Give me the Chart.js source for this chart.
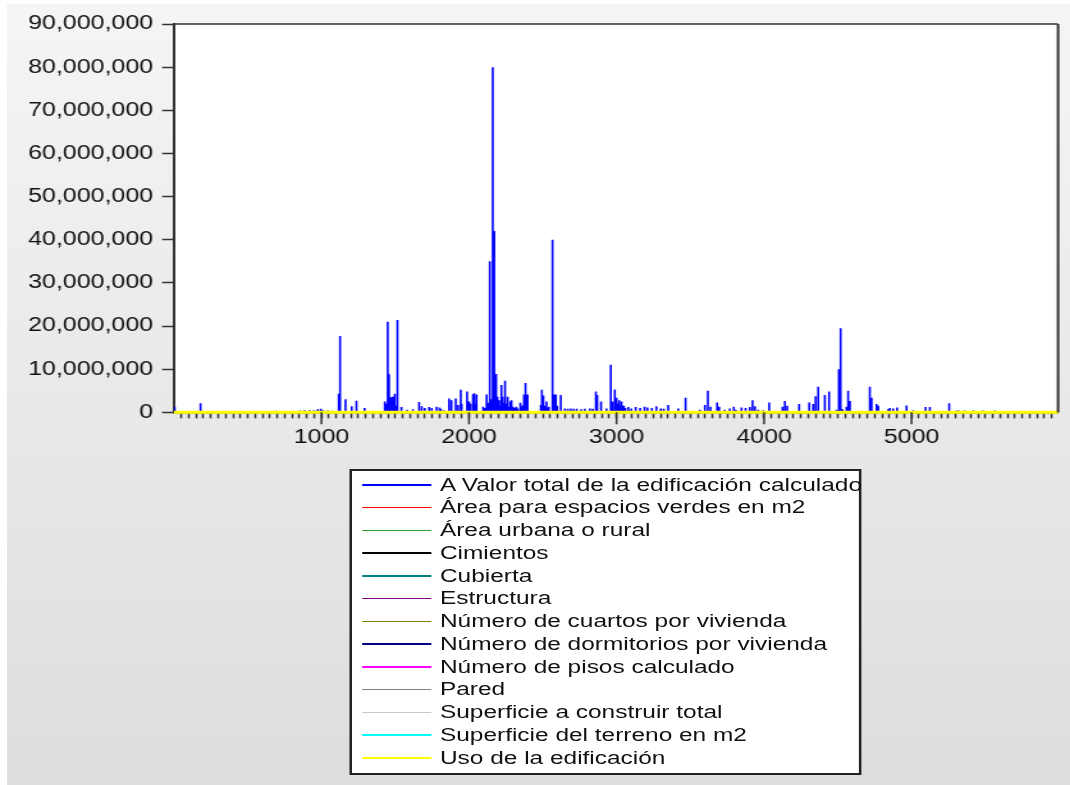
<!DOCTYPE html>
<html>
<head>
<meta charset="utf-8">
<script src="https://cdn.jsdelivr.net/npm/chart.js@4.4.0/dist/chart.umd.min.js"></script>
<style>
    html, body { margin: 0; padding: 0; background: #fff; overflow: hidden; }
    #bg { position: absolute; left: 7px; top: 4px; width: 1063px; height: 781px; background: linear-gradient(#f5f5f5, #dddddd); }
    /* the reference is horizontally stretched, so draw narrow and scale */
    #stage { position: absolute; left: 0; top: 0; width: 836px; height: 785px; transform: scaleX(1.28); transform-origin: 0 0; }
    #chart { position: absolute; left: 0; top: 0; }
    #legend { position: absolute; left: 273.4px; top: 469px; width: 400px; height: 306px; box-sizing: border-box;
              border: 2px solid #222; background: #fff; padding-top: 2.6px; }
    .row { position: relative; height: 22.75px; line-height: 22.75px; font: 19.1px 'Liberation Sans', Arial, sans-serif; color: #111; white-space: nowrap; }
    .row .line { position: absolute; left: 8px; top: 10.6px; width: 54px; height: 1.5px; }
    .row .txt { position: absolute; left: 68.3px; top: 0; }
</style>
</head>
<body>
<div id="bg"></div>
<div id="stage">
    <canvas id="chart" width="836" height="460"></canvas>
    <div id="legend"></div>
</div>
<script>
const seriesNames = [
    'A Valor total de la edificación calculado',
    'Área para espacios verdes en m2',
    'Área urbana o rural',
    'Cimientos',
    'Cubierta',
    'Estructura',
    'Número de cuartos por vivienda',
    'Número de dormitorios por vivienda',
    'Número de pisos calculado',
    'Pared',
    'Superficie a construir total',
    'Superficie del terreno en m2',
    'Uso de la edificación'
];
const seriesColors = ['#0000ff', '#ff0000', '#2ea02e', '#000000', '#008080', '#800080', '#808000',
                      '#000080', '#ff00ff', '#808080', '#c8c8c8', '#00ffff', '#ffff00'];

const obsRange = [0, 5993];
const xMajorTicks = [1000, 2000, 3000, 4000, 5000];
const xMinorStep = 50;
const yTickStep = 10000000;
const yMax = 90000000;

// Valor total: observation number and value of each visible spike
const valorObs = [5, 180, 665, 690, 720, 745, 855, 885, 920, 950, 975, 995, 1010, 1045, 1075,
    1117, 1126, 1163, 1205, 1237, 1292, 1429, 1440, 1449, 1458, 1465, 1470, 1483, 1490, 1497, 1505, 1515,
    1542, 1580, 1620, 1662, 1680, 1700, 1730, 1748, 1780, 1800, 1809, 1830,
    1865, 1881, 1910, 1926, 1944, 1950, 1987, 1995, 2001, 2010, 2023, 2030, 2035, 2045, 2051,
    2096, 2110, 2119, 2130, 2141, 2150, 2161, 2171, 2180, 2187, 2193, 2204, 2210, 2216, 2222, 2227,
    2236, 2240, 2247, 2252, 2258, 2265, 2270, 2277, 2282, 2288, 2295, 2300, 2310, 2320, 2330, 2344,
    2350, 2356, 2363, 2370, 2374, 2380, 2385, 2392, 2397,
    2487, 2494, 2500, 2507, 2515, 2525, 2532, 2541, 2566, 2575, 2580, 2589, 2598, 2622,
    2650, 2670, 2690, 2710, 2730, 2760, 2785, 2820, 2840, 2860, 2869, 2895, 2932,
    2961, 2973, 2986, 2990, 3000, 3010, 3018, 3025, 3034, 3042, 3050, 3060,
    3080, 3100, 3130, 3160, 3190, 3210, 3240, 3270, 3300, 3320, 3350, 3418, 3468,
    3565, 3599, 3619, 3637, 3682, 3696, 3734, 3768, 3795, 3809, 3847, 3875, 3904, 3922, 3938, 3960, 3994,
    4035, 4125, 4141, 4157, 4238, 4306, 4333, 4349, 4367, 4412, 4441, 4491, 4507, 4519, 4532,
    4559, 4570, 4582, 4717, 4729, 4763, 4774, 4841, 4853, 4875, 4902, 4966, 5011, 5095, 5124,
    5255, 5305, 5320, 5360, 5418, 5486, 5565];
const valorValues = [1.2e6, 2.1e6, 0.3e6, 0.35e6, 0.3e6, 0.3e6, 0.4e6, 0.5e6, 0.45e6, 0.5e6, 0.7e6, 0.8e6, 0.5e6, 0.4e6, 0.35e6,
    4.3e6, 17.7e6, 3.0e6, 1.4e6, 2.7e6, 1.0e6, 2.5e6, 2.0e6, 21.0e6, 8.8e6, 3.0e6, 3.5e6, 3.6e6, 2.5e6, 4.3e6, 1.5e6, 21.4e6,
    1.2e6, 0.6e6, 0.7e6, 2.4e6, 1.4e6, 1.0e6, 1.2e6, 1.0e6, 1.3e6, 1.1e6, 0.8e6, 0.5e6,
    3.2e6, 2.8e6, 3.2e6, 1.7e6, 5.2e6, 2.0e6, 4.8e6, 1.5e6, 2.5e6, 2.0e6, 4.2e6, 2.0e6, 4.4e6, 2.0e6, 4.1e6,
    1.3e6, 1.0e6, 4.1e6, 2.2e6, 35.0e6, 3.0e6, 80.0e6, 42.0e6, 8.9e6, 2.0e6, 3.6e6, 2.8e6, 1.5e6, 6.3e6, 1.8e6, 3.6e6,
    2.2e6, 1.5e6, 7.3e6, 2.0e6, 3.6e6, 1.5e6, 1.2e6, 2.5e6, 1.5e6, 2.8e6, 1.0e6, 1.3e6, 1.0e6, 1.3e6, 0.9e6, 2.2e6,
    1.0e6, 1.2e6, 1.6e6, 1.5e6, 4.1e6, 3.0e6, 6.8e6, 2.5e6, 4.1e6,
    1.7e6, 5.2e6, 2.0e6, 3.9e6, 1.5e6, 2.5e6, 1.0e6, 1.3e6, 40.0e6, 4.1e6, 2.0e6, 4.1e6, 1.5e6, 4.0e6,
    0.9e6, 0.8e6, 0.9e6, 0.8e6, 0.8e6, 0.7e6, 0.8e6, 0.9e6, 0.8e6, 4.8e6, 4.0e6, 2.5e6, 0.9e6,
    11.0e6, 2.5e6, 5.3e6, 2.0e6, 3.4e6, 2.0e6, 2.8e6, 1.5e6, 2.5e6, 1.5e6, 1.5e6, 1.0e6,
    1.2e6, 0.9e6, 1.2e6, 1.0e6, 1.3e6, 1.1e6, 1.0e6, 1.4e6, 0.9e6, 0.8e6, 1.7e6, 0.9e6, 3.4e6,
    0.6e6, 1.7e6, 5.0e6, 1.3e6, 2.3e6, 1.3e6, 0.6e6, 0.9e6, 1.3e6, 0.6e6, 1.1e6, 1.0e6, 1.2e6, 2.8e6, 1.4e6, 0.6e6, 0.5e6,
    2.3e6, 1.3e6, 2.6e6, 1.5e6, 1.9e6, 2.3e6, 1.9e6, 3.7e6, 5.9e6, 4.0e6, 4.8e6, 0.6e6, 10.0e6, 19.5e6, 0.7e6,
    1.3e6, 5.0e6, 2.6e6, 5.9e6, 3.4e6, 1.9e6, 1.5e6, 0.7e6, 1.0e6, 0.9e6, 1.1e6, 1.6e6, 0.5e6, 1.2e6, 1.2e6,
    2.1e6, 0.4e6, 0.4e6, 0.4e6, 0.4e6, 0.4e6, 0.4e6];

// Área para espacios verdes: small values only just visible on the zero line
const verdesObs = [60, 250, 300, 420, 480, 520, 600, 650, 700, 760, 820, 900, 980, 1050, 1150, 1300, 1500,
    1700, 1900, 2200, 2400, 2600, 2800, 3000, 3200, 3400, 3800, 4300, 4500, 4700, 4900, 5050, 5300, 5500];
const verdesValues = [120000, 100000, 150000, 100000, 120000, 100000, 150000, 100000, 120000, 100000, 130000,
    100000, 150000, 120000, 100000, 130000, 150000, 100000, 120000, 150000, 100000, 130000, 120000, 150000,
    100000, 120000, 100000, 130000, 150000, 100000, 120000, 100000, 130000, 100000];

// the other eleven series stay at (about) zero on this scale
const otherLevels = [0, 0, 0, 0, 0, 0, 0, 0, 0, 0, 0];

function spikes(obs, values) {
    const pts = [{ x: obsRange[0], y: 0 }];
    obs.forEach((o, i) => {
        pts.push({ x: o, y: 0 }, { x: o, y: values[i] }, { x: o, y: 0 });
    });
    pts.push({ x: obsRange[1], y: 0 });
    return pts;
}

const datasets = [
    { data: spikes(valorObs, valorValues), borderWidth: 1.6 },
    { data: spikes(verdesObs, verdesValues), borderWidth: 1.5 }
];
otherLevels.forEach(level => {
    datasets.push({ data: [{ x: obsRange[0], y: level }, { x: obsRange[1], y: level }], borderWidth: 1.5 });
});
datasets.forEach((ds, i) => {
    ds.label = seriesNames[i];
    ds.borderColor = seriesColors[i];
    ds.pointRadius = 0;
    ds.borderJoinStyle = 'bevel';
    ds.tension = 0;
});
// yellow series sits on top of the zero line
datasets[12].borderWidth = 3;
datasets[12].order = -1;
datasets[12].clip = false;

const xTickValues = [];
for (let v = xMinorStep; v < obsRange[1]; v += xMinorStep) xTickValues.push(v);

const font = { family: "'Liberation Sans', Arial, sans-serif", size: 19.5 };

const framePlugin = {
    id: 'frame',
    beforeDraw(chart) {
        const a = chart.chartArea, ctx = chart.ctx;
        ctx.save();
        ctx.fillStyle = '#fff';
        ctx.fillRect(a.left, a.top, a.right - a.left, a.bottom - a.top);
        ctx.restore();
    },
    afterDraw(chart) {
        const a = chart.chartArea, ctx = chart.ctx, xs = chart.scales.x;
        ctx.save();
        ctx.strokeStyle = '#333';
        ctx.lineWidth = 1.5;
        ctx.beginPath();
        ctx.moveTo(a.left, a.top);
        ctx.lineTo(a.right, a.top);
        ctx.stroke();
        ctx.lineWidth = 2;
        ctx.beginPath();
        ctx.moveTo(a.right, a.top);
        ctx.lineTo(a.right, a.bottom);
        ctx.stroke();
        // longer tick marks for the labelled values
        ctx.lineWidth = 1.5;
        xMajorTicks.forEach(v => {
            const x = xs.getPixelForValue(v);
            ctx.beginPath();
            ctx.moveTo(x, a.bottom);
            ctx.lineTo(x, a.bottom + 12);
            ctx.stroke();
        });
        ctx.restore();
    }
};

new Chart(document.getElementById('chart'), {
    type: 'line',
    data: { datasets: datasets },
    options: {
        responsive: false,
        animation: false,
        layout: { padding: { left: 0, right: 9.4, top: 24, bottom: 7.7 } },
        plugins: { legend: { display: false }, tooltip: { enabled: false } },
        scales: {
            x: {
                type: 'linear',
                min: obsRange[0],
                max: obsRange[1],
                afterBuildTicks: scale => { scale.ticks = xTickValues.map(v => ({ value: v })); },
                afterFit: scale => { scale.height = 40; },
                ticks: {
                    autoSkip: false,
                    maxRotation: 0,
                    padding: 8,
                    color: '#111',
                    font: font,
                    callback: v => xMajorTicks.includes(v) ? String(v) : ''
                },
                grid: { drawOnChartArea: false, tickLength: 6, tickWidth: 1.5, tickColor: '#333' },
                border: { color: '#333', width: 1.5 }
            },
            y: {
                min: 0,
                max: yMax,
                afterFit: scale => { scale.width = 135.9; },
                ticks: {
                    stepSize: yTickStep,
                    padding: 7,
                    color: '#111',
                    font: font,
                    callback: v => v.toLocaleString('en-US')
                },
                grid: { drawOnChartArea: false, tickLength: 9.3, tickWidth: 1.5, tickColor: '#333' },
                border: { color: '#333', width: 2 }
            }
        }
    },
    plugins: [framePlugin]
});

// legend box, one line per series
const legend = document.getElementById('legend');
seriesNames.forEach((name, i) => {
    const row = document.createElement('div');
    row.className = 'row';
    row.innerHTML = '<span class="line" style="background:' + seriesColors[i] + '"></span><span class="txt"></span>';
    row.querySelector('.txt').textContent = name;
    legend.appendChild(row);
});
</script>
</body>
</html>
